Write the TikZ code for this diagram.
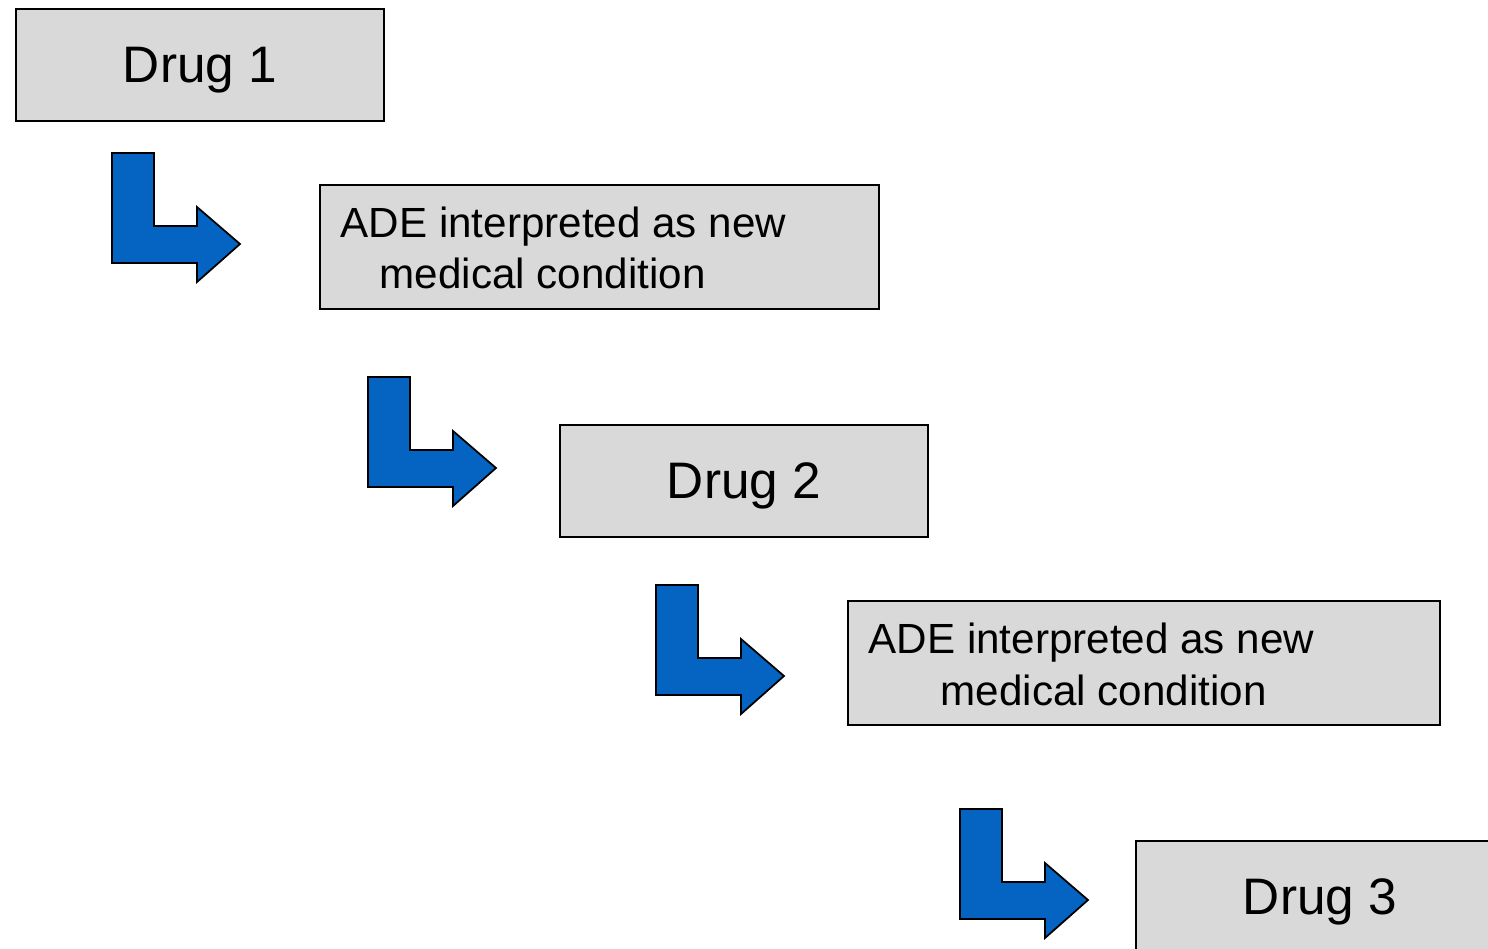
\documentclass[tikz,border=0pt]{standalone}
\usepackage{fontspec}
\setmainfont{Liberation Sans}
\definecolor{boxgray}{HTML}{D9D9D9}
\definecolor{arrowblue}{HTML}{0563C1}
\tikzset{
  drugbox/.style={draw=black,fill=boxgray,line width=0.6pt,minimum width=3.68cm,
    minimum height=1.12cm,inner sep=0pt,text depth=0pt,font=\fontsize{14.6}{17}\selectfont},
  adebox/.style={draw=black,fill=boxgray,line width=0.6pt,inner sep=0pt,
    minimum height=1.24cm},
  adeline/.style={anchor=base west,inner sep=0pt,font=\fontsize{12}{14}\selectfont},
  elbow/.style={draw=black,fill=arrowblue,line width=0.5pt,line join=miter}
}
\newcommand{\elbowarrow}[1]{%
  \draw[elbow,shift={(#1)}] (0,0) -- (0.42,0) -- (0.42,-0.73) -- (0.85,-0.73)
    -- (0.85,-0.54) -- (1.28,-0.91) -- (0.85,-1.29) -- (0.85,-1.10) -- (0,-1.10) -- cycle;}
\begin{document}
\begin{tikzpicture}
\useasboundingbox (0,0) rectangle (14.88,-9.49);
\clip (0,0) rectangle (14.88,-9.49);
\coordinate (D1) at (2.00,-0.65);
\coordinate (D2) at (7.44,-4.81);
\coordinate (D3) at (13.20,-8.97);
\coordinate (A1) at (5.995,-2.47);
\coordinate (A2) at (11.44,-6.63);
\coordinate (E1) at (1.12,-1.53);
\coordinate (E2) at (3.68,-3.77);
\coordinate (E3) at (6.56,-5.85);
\coordinate (E4) at (9.60,-8.09);
% boxes
\node[drugbox] (drug1) at (D1) {Drug 1};
\node[adebox,minimum width=5.59cm] (ade1) at (A1) {};
\node[drugbox] (drug2) at (D2) {Drug 2};
\node[adebox,minimum width=5.92cm] (ade2) at (A2) {};
\node[drugbox] (drug3) at (D3) {Drug 3};
% box texts
\node[adeline] (ade1a) at (3.40,-2.37) {ADE interpreted as new};
\node[adeline] (ade1b) at (3.79,-2.88) {medical condition};
\node[adeline] (ade2a) at (8.68,-6.53) {ADE interpreted as new};
\node[adeline] (ade2b) at (9.40,-7.05) {medical condition};
% bent arrows
\elbowarrow{E1}
\elbowarrow{E2}
\elbowarrow{E3}
\elbowarrow{E4}
\end{tikzpicture}
\end{document}
